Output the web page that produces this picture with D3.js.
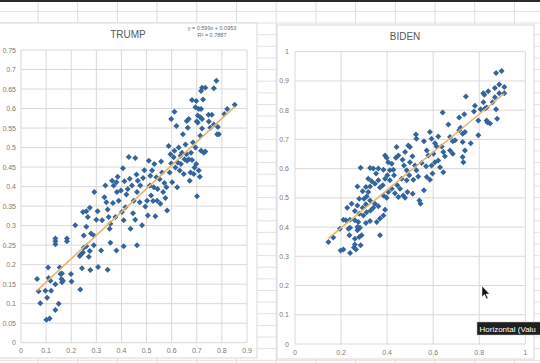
<html lang="en"><head>
<meta charset="utf-8">
<title>Trump / Biden scatter</title>
<script src="https://cdn.jsdelivr.net/npm/d3@7"></script>
<style>
  body { margin: 0; background: #fff; }
  svg text { font-family: "Liberation Sans", Arial, sans-serif; }
</style>
</head>
<body>
<script>

// tick labels
var trumpXTicks = [0, 0.1, 0.2, 0.3, 0.4, 0.5, 0.6, 0.7, 0.8, 0.9];
var trumpYTicks = [0, 0.05, 0.1, 0.15, 0.2, 0.25, 0.3, 0.35, 0.4, 0.45, 0.5, 0.55, 0.6, 0.65, 0.7, 0.75];
var bidenXTicks = [0, 0.2, 0.4, 0.6, 0.8, 1];
var bidenYTicks = [0, 0.1, 0.2, 0.3, 0.4, 0.5, 0.6, 0.7, 0.8, 0.9, 1];

// trendline shown on the Trump chart: y = 0.599x + 0.0953
var trumpFit = [0.599, 0.0953];
var trumpLabel = ["y = 0.599x + 0.0953", "R\u00B2 = 0.7887"];

// points [x, y]
var trumpPoints = [
  [0.064,0.163],[0.070,0.132],[0.077,0.101],[0.097,0.133],[0.104,0.115],[0.101,0.059],[0.114,0.062],
  [0.108,0.193],[0.110,0.166],[0.117,0.159],[0.120,0.133],[0.137,0.150],[0.137,0.084],[0.150,0.100],
  [0.154,0.193],[0.157,0.176],[0.161,0.163],[0.163,0.177],[0.163,0.155],[0.167,0.159],[0.199,0.176],
  [0.201,0.157],[0.137,0.252],[0.137,0.260],[0.183,0.260],[0.236,0.136],[0.234,0.222],[0.239,0.226],
  [0.243,0.191],[0.247,0.231],[0.250,0.243],[0.260,0.247],[0.270,0.220],[0.274,0.235],[0.276,0.186],
  [0.290,0.250],[0.307,0.194],[0.319,0.236],[0.345,0.187],[0.356,0.256],[0.380,0.236],[0.409,0.247],
  [0.462,0.250],[0.137,0.267],[0.183,0.267],
  [0.216,0.301],[0.250,0.275],[0.247,0.335],[0.260,0.337],[0.266,0.322],[0.260,0.297],[0.274,0.346],
  [0.279,0.280],[0.292,0.386],[0.290,0.275],[0.300,0.315],[0.305,0.337],[0.323,0.314],[0.332,0.373],
  [0.336,0.403],[0.340,0.360],[0.345,0.341],[0.349,0.322],[0.353,0.292],[0.356,0.305],[0.363,0.415],
  [0.366,0.358],[0.369,0.403],[0.376,0.322],[0.380,0.411],[0.382,0.386],[0.385,0.425],[0.389,0.364],
  [0.398,0.390],[0.402,0.335],[0.406,0.447],[0.409,0.314],[0.412,0.414],[0.416,0.347],[0.420,0.380],
  [0.425,0.394],[0.429,0.476],[0.433,0.420],[0.436,0.292],[0.442,0.403],[0.446,0.332],[0.449,0.364],
  [0.455,0.473],[0.455,0.315],[0.460,0.431],[0.462,0.386],[0.465,0.415],[0.473,0.360],[0.475,0.403],
  [0.482,0.301],[0.486,0.422],[0.491,0.442],[0.495,0.349],[0.502,0.364],[0.505,0.326],[0.509,0.466],
  [0.513,0.403],[0.515,0.428],[0.518,0.377],[0.522,0.441],[0.526,0.363],[0.529,0.398],[0.531,0.458],
  [0.535,0.324],[0.539,0.424],[0.542,0.364],[0.544,0.394],[0.552,0.419],[0.555,0.356],[0.558,0.464],
  [0.562,0.436],[0.566,0.386],[0.571,0.409],[0.575,0.371],[0.579,0.398],[0.582,0.339],[0.588,0.504],
  [0.592,0.436],[0.595,0.483],[0.598,0.459],[0.602,0.411],[0.608,0.475],[0.611,0.492],[0.615,0.449],
  [0.619,0.555],[0.622,0.398],[0.624,0.462],[0.628,0.500],[0.632,0.441],[0.635,0.479],[0.637,0.458],
  [0.641,0.487],[0.645,0.534],[0.648,0.432],[0.651,0.470],[0.655,0.508],[0.659,0.483],[0.661,0.466],
  [0.664,0.551],[0.668,0.470],[0.672,0.415],[0.675,0.436],[0.677,0.487],[0.681,0.468],[0.685,0.513],
  [0.688,0.432],[0.691,0.449],[0.695,0.500],[0.698,0.458],[0.701,0.375],[0.704,0.564],[0.708,0.441],
  [0.712,0.425],[0.714,0.530],[0.717,0.492],[0.721,0.549],[0.728,0.487],[0.734,0.490],[0.754,0.551],
  [0.768,0.559],[0.781,0.534],[0.784,0.553],[0.748,0.567],[0.788,0.534],[0.660,0.568],[0.700,0.567],
  [0.611,0.592],[0.598,0.573],[0.668,0.573],[0.681,0.622],[0.698,0.619],[0.725,0.623],[0.695,0.603],
  [0.708,0.599],[0.717,0.599],[0.704,0.582],[0.714,0.578],[0.721,0.573],[0.717,0.645],[0.721,0.653],
  [0.734,0.653],[0.747,0.584],[0.760,0.584],[0.768,0.652],[0.778,0.671],[0.821,0.599],[0.851,0.610],
  [0.810,0.586]
];

var bidenPoints = [
  [0.873,0.927],[0.897,0.934],[0.887,0.888],[0.909,0.879],[0.909,0.858],[0.868,0.876],[0.887,0.858],
  [0.839,0.865],[0.818,0.858],[0.822,0.853],[0.742,0.847],[0.868,0.844],[0.818,0.827],[0.858,0.827],
  [0.781,0.815],[0.806,0.803],[0.825,0.806],[0.832,0.809],[0.873,0.803],[0.777,0.795],[0.641,0.792],
  [0.735,0.786],[0.713,0.775],[0.878,0.771],[0.832,0.765],
  [0.796,0.765],[0.835,0.759],[0.847,0.754],[0.666,0.751],[0.713,0.731],[0.719,0.740],[0.728,0.719],
  [0.738,0.725],[0.796,0.714],[0.586,0.725],[0.622,0.710],[0.673,0.708],[0.685,0.694],[0.695,0.697],
  [0.525,0.717],[0.527,0.702],[0.560,0.694],[0.593,0.702],[0.608,0.687],[0.615,0.676],[0.601,0.651],
  [0.637,0.676],[0.644,0.657],[0.651,0.642],[0.728,0.691],[0.738,0.662],[0.728,0.640],[0.731,0.622],
  [0.763,0.687],[0.673,0.662],[0.685,0.651],[0.572,0.662],[0.579,0.645],[0.550,0.619],[0.569,0.608],
  [0.593,0.611],[0.608,0.622],[0.622,0.628],[0.630,0.605],[0.644,0.588],[0.597,0.583],[0.572,0.571],
  [0.586,0.562],[0.560,0.526],[0.540,0.491],[0.545,0.480],[0.527,0.594],[0.535,0.573],[0.514,0.562],
  [0.521,0.611],[0.499,0.622],[0.510,0.642],[0.492,0.679],[0.478,0.657],[0.467,0.630],[0.473,0.611],
  [0.485,0.594],[0.499,0.674],[0.441,0.674],[0.449,0.645],[0.438,0.637],[0.398,0.637],[0.391,0.645],
  [0.405,0.622],[0.420,0.617],[0.427,0.596],[0.412,0.594],[0.401,0.577],[0.384,0.596],[0.391,0.565],
  [0.381,0.543],[0.412,0.560],[0.430,0.577],[0.444,0.543],[0.456,0.531],[0.470,0.508],[0.478,0.500],
  [0.488,0.520],[0.463,0.565],[0.485,0.560],[0.496,0.577],[0.511,0.514],[0.449,0.503],[0.434,0.516],
  [0.420,0.531],[0.405,0.520],[0.398,0.500],[0.384,0.508],[0.369,0.535],[0.362,0.560],[0.352,0.583],
  [0.362,0.600],[0.340,0.600],[0.326,0.602],[0.285,0.603],[0.347,0.548],[0.333,0.557],[0.326,0.539],
  [0.318,0.520],[0.311,0.505],[0.300,0.497],[0.326,0.491],[0.347,0.480],[0.362,0.471],[0.340,0.466],
  [0.328,0.457],[0.308,0.478],[0.294,0.466],[0.271,0.474],[0.279,0.497],[0.271,0.539],[0.294,0.523],
  [0.308,0.537],[0.318,0.565],[0.279,0.446],[0.297,0.440],[0.311,0.451],[0.227,0.466],[0.246,0.480],
  [0.260,0.455],[0.239,0.425],[0.210,0.425],[0.221,0.423],[0.260,0.423],[0.275,0.417],[0.308,0.414],
  [0.326,0.421],[0.355,0.417],[0.369,0.429],[0.384,0.440],[0.391,0.459],[0.369,0.372],[0.232,0.394],
  [0.239,0.398],[0.271,0.400],[0.271,0.389],[0.282,0.398],[0.236,0.372],[0.260,0.360],[0.279,0.366],
  [0.289,0.372],[0.166,0.364],[0.195,0.394],
  [0.145,0.349],[0.198,0.320],[0.210,0.323],[0.239,0.311],[0.256,0.330],[0.265,0.323],[0.285,0.338],
  [0.260,0.340]
];

var W = 540, H = 363;
var svg = d3.select("body").append("svg").attr("width", W).attr("height", H);

// spreadsheet behind the charts
var colLines = d3.range(38, W, 39.7);
var rowLines = d3.range(11.4, H, 11.63);
svg.append("rect").attr("width", W).attr("height", H).attr("fill", "#fff");
svg.selectAll(".row").data(rowLines).enter().append("line")
   .attr("x1", 0).attr("x2", W).attr("y1", function(d) { return d; }).attr("y2", function(d) { return d; })
   .attr("stroke", "#e3e3e3").attr("stroke-width", 1);
svg.selectAll(".col").data(colLines).enter().append("line")
   .attr("y1", 0).attr("y2", H).attr("x1", function(d) { return d; }).attr("x2", function(d) { return d; })
   .attr("stroke", "#dedede").attr("stroke-width", 1);
svg.append("rect").attr("x", 0).attr("y", 0).attr("width", W).attr("height", 2).attr("fill", "#2b2b2b");

var diamond = "M0,-3L3,0L0,3L-3,0Z";

function drawChart(c) {
  var g = svg.append("g");
  // chart frame
  g.append("rect").attr("x", c.frame[0]).attr("y", c.frame[1])
   .attr("width", c.frame[2] - c.frame[0]).attr("height", c.frame[3] - c.frame[1])
   .attr("fill", "#fff").attr("stroke", "#d9d9d9");

  var x = d3.scaleLinear().domain(c.xDomain).range([c.plot[0], c.plot[2]]);
  var y = d3.scaleLinear().domain(c.yDomain).range([c.plot[3], c.plot[1]]);

  // gridlines
  g.selectAll(".gx").data(c.xTicks).enter().append("line")
   .attr("x1", function(d) { return x(d); }).attr("x2", function(d) { return x(d); })
   .attr("y1", y(c.yDomain[0])).attr("y2", y(c.yDomain[1]))
   .attr("stroke", "#d9d9d9");
  g.selectAll(".gy").data(c.yTicks).enter().append("line")
   .attr("y1", function(d) { return y(d); }).attr("y2", function(d) { return y(d); })
   .attr("x1", x(c.xDomain[0])).attr("x2", x(c.xDomain[1]))
   .attr("stroke", "#d9d9d9");

  // axis labels
  g.selectAll(".lx").data(c.xTicks).enter().append("text")
   .attr("x", function(d) { return x(d); }).attr("y", c.plot[3] + c.xLabelGap)
   .attr("text-anchor", "middle").attr("font-size", "7px").attr("fill", "#7a7a7a")
   .text(function(d) { return d; });
  g.selectAll(".ly").data(c.yTicks).enter().append("text")
   .attr("x", c.plot[0] - c.yLabelGap).attr("y", function(d) { return y(d) + 2.5; })
   .attr("text-anchor", "end").attr("font-size", "7px").attr("fill", "#7a7a7a")
   .text(function(d) { return d; });

  // title
  g.append("text").attr("x", c.title[1]).attr("y", c.title[2])
   .attr("text-anchor", "middle").attr("font-size", "10px").attr("fill", "#595959")
   .text(c.title[0]);

  // points
  g.selectAll(".pt").data(c.points).enter().append("path")
   .attr("d", diamond)
   .attr("transform", function(d) { return "translate(" + x(d[0]) + "," + y(d[1]) + ")"; })
   .attr("fill", "#34649b");

  // linear trendline over the data range
  var ext = d3.extent(c.points, function(d) { return d[0]; });
  g.append("line")
   .attr("x1", x(ext[0])).attr("y1", y(c.fit[0] * ext[0] + c.fit[1]))
   .attr("x2", x(ext[1])).attr("y2", y(c.fit[0] * ext[1] + c.fit[1]))
   .attr("stroke", "#e7b46c").attr("stroke-width", 1.6);
  return g;
}

// least squares fit for the Biden series
function linFit(pts) {
  var mx = d3.mean(pts, function(d) { return d[0]; });
  var my = d3.mean(pts, function(d) { return d[1]; });
  var sxy = d3.sum(pts, function(d) { return (d[0] - mx) * (d[1] - my); });
  var sxx = d3.sum(pts, function(d) { return (d[0] - mx) * (d[0] - mx); });
  var b = sxy / sxx;
  return [b, my - b * mx];
}

var tg = drawChart({
  frame: [-2, 23, 257, 358], plot: [21, 50, 247, 342.7],
  xDomain: [0, 0.9], yDomain: [0, 0.75],
  xTicks: trumpXTicks, yTicks: trumpYTicks,
  xLabelGap: 10, yLabelGap: 5,
  title: ["TRUMP", 128, 38],
  points: trumpPoints, fit: trumpFit
});
tg.selectAll(".eq").data(trumpLabel).enter().append("text")
  .attr("x", 212).attr("y", function(d, i) { return 30 + i * 7; })
  .attr("text-anchor", "middle").attr("font-size", "5.5px").attr("fill", "#6a6a6a")
  .text(function(d) { return d; });

drawChart({
  frame: [277, 25, 534, 359], plot: [295, 51.7, 525.3, 344],
  xDomain: [0, 1], yDomain: [0, 1],
  xTicks: bidenXTicks, yTicks: bidenYTicks,
  xLabelGap: 11, yLabelGap: 6,
  title: ["BIDEN", 405, 40],
  points: bidenPoints, fit: linFit(bidenPoints)
});

// hover tooltip and mouse pointer from the screenshot
svg.append("rect").attr("x", 477).attr("y", 322).attr("width", 70).attr("height", 13)
   .attr("fill", "#1f1f1f").attr("stroke", "#bbb").attr("stroke-width", 0.5);
svg.append("text").attr("x", 479.5).attr("y", 331.5).attr("font-size", "8px").attr("fill", "#fff")
   .text("Horizontal (Valu");
svg.append("path").attr("d", "M482,286 L482,297 L484.5,294.5 L486.5,299 L488,298.3 L486,294 L489.5,294 Z")
   .attr("fill", "#111").attr("stroke", "#fff").attr("stroke-width", 0.5);

</script>
</body></html>
